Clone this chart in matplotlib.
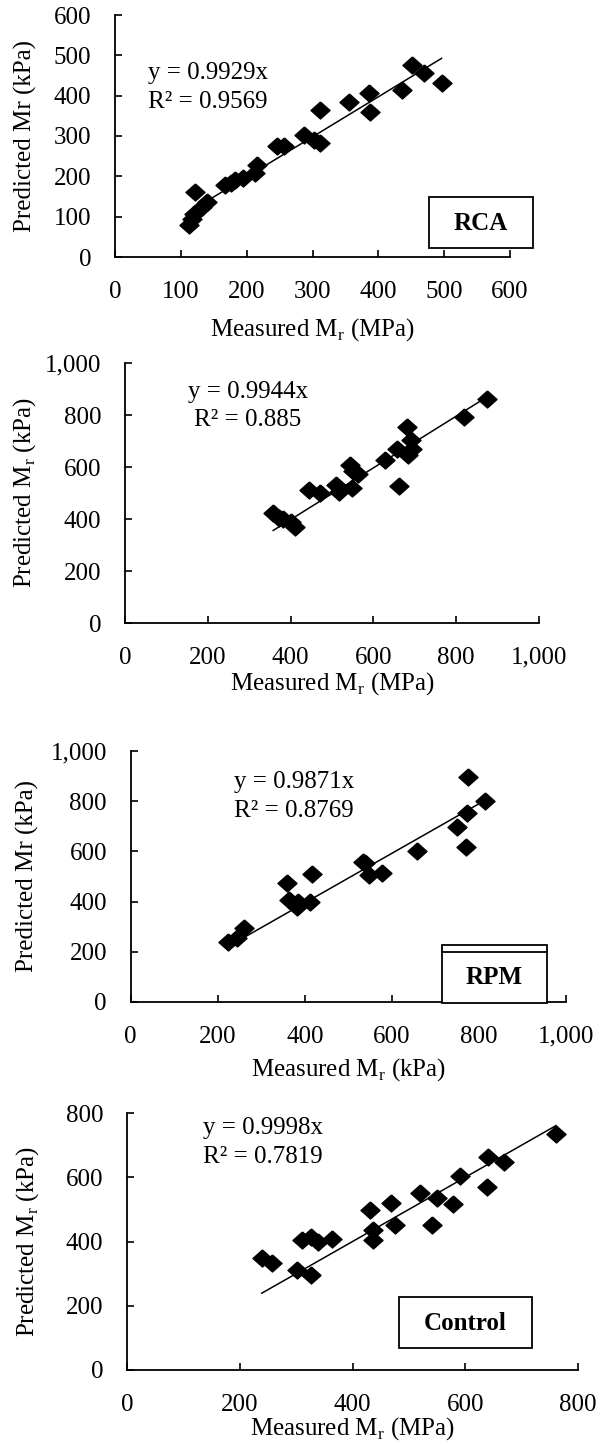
import numpy as np
import matplotlib.pyplot as plt
from matplotlib.patches import Rectangle
from matplotlib.lines import Line2D
from matplotlib.ticker import FuncFormatter

FS = 18
plt.rcParams['font.family'] = ['Liberation Serif', 'DejaVu Serif']
plt.rcParams['mathtext.fontset'] = 'custom'
plt.rcParams['mathtext.rm'] = 'Liberation Serif'
plt.rcParams['font.size'] = FS

# RCA
rca_x = [112, 117, 120, 122, 132, 139, 167, 176, 182, 195, 213, 216, 246,
         256, 287, 302, 311, 312, 356, 386, 387, 436, 451, 469, 496]
rca_y = [79, 95, 106, 162, 125, 137, 179, 183, 191, 195, 208, 229, 274,
         274, 303, 290, 282, 365, 384, 406, 360, 414, 477, 457, 432]
rca_slope, rca_r2 = 0.9929, 0.9569

# second panel (no label)
p2_x = [358, 373, 382, 400, 411, 444, 471, 509, 518, 543, 549, 551, 562,
        627, 657, 661, 680, 683, 691, 693, 820, 875]
p2_y = [422, 405, 400, 390, 370, 512, 499, 531, 505, 607, 518, 584, 575,
        627, 671, 528, 754, 646, 703, 671, 793, 863]
p2_slope, p2_r2 = 0.9944, 0.885

# RPM
rpm_x = [224, 245, 260, 360, 364, 382, 385, 412, 416, 533, 538, 547, 578,
         658, 750, 770, 772, 774, 815]
rpm_y = [239, 253, 293, 475, 406, 379, 399, 399, 508, 559, 552, 505, 515,
         602, 698, 618, 751, 898, 800]
rpm_slope, rpm_r2 = 0.9871, 0.8769

# Control
ctl_x = [239, 257, 301, 310, 327, 327, 339, 363, 431, 436, 436, 469, 475,
         519, 541, 550, 579, 591, 639, 641, 669, 761]
ctl_y = [348, 332, 311, 405, 296, 413, 400, 409, 498, 436, 405, 519, 452,
         550, 451, 534, 516, 603, 570, 663, 648, 734]
ctl_slope, ctl_r2 = 0.9998, 0.7819

W, H = 614, 1446
fig = plt.figure(figsize=(W / 100, H / 100), dpi=100)

def fx(x):
    return x / W

def fy(y):
    return 1 - y / H

diamond = [(0, 1), (1.12, 0), (0, -1), (-1.12, 0), (0, 1)]
comma = FuncFormatter(lambda v, p: '{:,.0f}'.format(v))
sub_r = r'M$_\mathregular{r}$'

panels = [
    # ylabel coord = right edge of the rotated label
    dict(x=rca_x, y=rca_y, k=rca_slope, box=(115, 15, 510, 257),
         ylab='Predicted Mr (kPa)', xlab='Measured ' + sub_r + ' (MPa)',
         lim=600, step=100, xl=-0.244, yl=-0.197),
    dict(x=p2_x, y=p2_y, k=p2_slope, box=(125, 363, 539, 623),
         ylab='Predicted ' + sub_r + ' (kPa)', xlab='Measured ' + sub_r + ' (MPa)',
         lim=1000, step=200, xl=-0.183, yl=-0.209),
    dict(x=rpm_x, y=rpm_y, k=rpm_slope, box=(130.6, 751, 566, 1002),
         ylab='Predicted Mr (kPa)', xlab='Measured ' + sub_r + ' (kPa)',
         lim=1000, step=200, xl=-0.215, yl=-0.210),
    dict(x=ctl_x, y=ctl_y, k=ctl_slope, box=(127, 1113, 578, 1370),
         ylab='Predicted ' + sub_r + ' (kPa)', xlab='Measured ' + sub_r + ' (MPa)',
         lim=800, step=200, xl=-0.177, yl=-0.191),
]

for p in panels:
    l, t, r, b = p['box']
    ax = fig.add_axes([fx(l), fy(b), fx(r) - fx(l), (b - t) / H])
    xs = np.array(p['x'], dtype=float)
    ax.plot(xs, p['y'], linestyle='none', marker=diamond, markersize=13.7,
            color='black', clip_on=False, zorder=2)
    xx = np.array([xs.min(), xs.max()])
    ax.plot(xx, p['k'] * xx, color='black', lw=1.1, zorder=3)
    ax.set_xlim(0, p['lim'])
    ax.set_ylim(0, p['lim'])
    ticks = np.arange(0, p['lim'] + 1, p['step'])
    ax.set_xticks(ticks)
    ax.set_yticks(ticks)
    ax.xaxis.set_major_formatter(comma)
    ax.yaxis.set_major_formatter(comma)
    for s in ['top', 'right']:
        ax.spines[s].set_visible(False)
    for s in ['left', 'bottom']:
        ax.spines[s].set_linewidth(1.3)
    ax.tick_params(direction='in', length=5, width=1.2, pad=17, labelsize=FS)
    ax.set_xlabel(p['xlab'], fontsize=FS)
    ax.set_ylabel(p['ylab'], fontsize=FS)
    ax.xaxis.set_label_coords(0.5, p['xl'])
    ax.yaxis.set_label_coords(p['yl'], 0.5)

# trend line equations
eqs = [
    (147.8, 72.7, 101.7, 'left', rca_slope, rca_r2),
    (248, 391.7, 420, 'center', p2_slope, p2_r2),
    (234, 781.7, 811, 'left', rpm_slope, rpm_r2),
    (203, 1128.3, 1157, 'left', ctl_slope, ctl_r2),
]
for x0, y1, y2, ha, k, r2 in eqs:
    fig.text(fx(x0), fy(y1), 'y = {}x'.format(k), ha=ha, va='center', fontsize=FS)
    fig.text(fx(x0), fy(y2), 'R² = {}'.format(r2), ha=ha, va='center', fontsize=FS)

# boxed material labels
def label_box(l, t, r, b, text, ty):
    fig.patches.append(Rectangle((fx(l), fy(b)), fx(r) - fx(l), (b - t) / H,
                                 transform=fig.transFigure, fill=True,
                                 facecolor='white', edgecolor='black', lw=1.3,
                                 zorder=5))
    fig.text(fx((l + r) / 2), fy(ty), text, ha='center', va='center',
             fontsize=FS, fontweight='bold', zorder=6)

label_box(428.6, 196.7, 533.3, 248.3, 'RCA', 224)
label_box(442, 945, 547, 1003.3, 'RPM', 978)
fig.lines.append(Line2D([fx(442), fx(547)], [fy(951.7), fy(951.7)],
                        transform=fig.transFigure, color='black', lw=1.3,
                        zorder=6))
label_box(399, 1296.7, 532, 1348.3, 'Control', 1323)

fig.savefig('out.png', dpi=100)
